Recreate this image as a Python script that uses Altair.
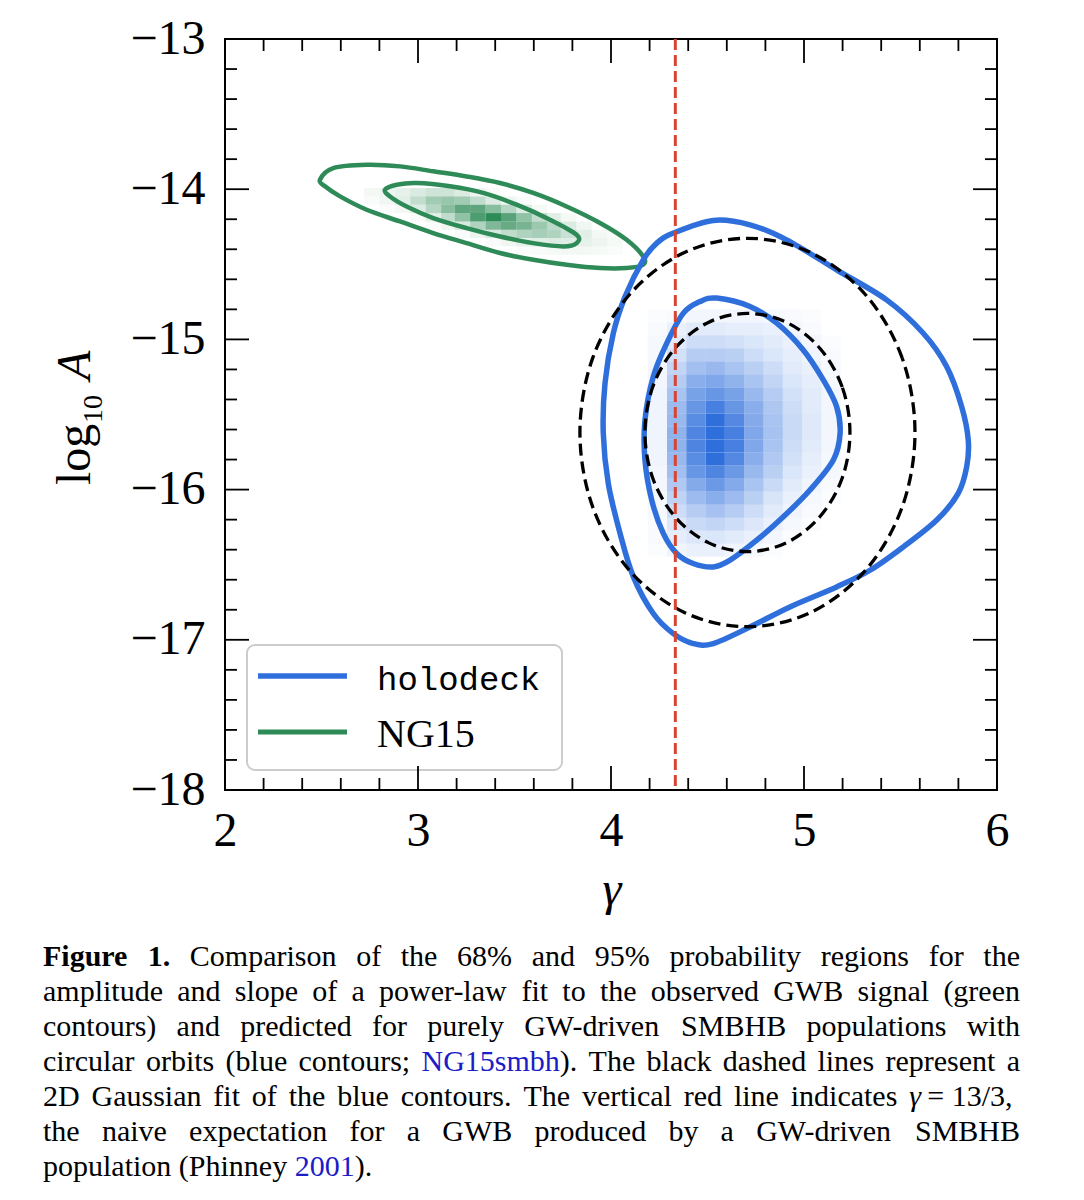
import re
import pandas as pd
import altair as alt

# ------------------------------------------------------------------ data
X_MAJOR = [2, 3, 4, 5, 6]
X_MINOR = [2.2, 2.4, 2.6, 2.8, 3.2, 3.4, 3.6, 3.8, 4.2, 4.4, 4.6, 4.8,
           5.2, 5.4, 5.6, 5.8]
Y_MAJOR = [-13, -14, -15, -16, -17, -18]
Y_MINOR = [-13.2, -13.4, -13.6, -13.8, -14.2, -14.4, -14.6, -14.8,
           -15.2, -15.4, -15.6, -15.8, -16.2, -16.4, -16.6, -16.8,
           -17.2, -17.4, -17.6, -17.8]

GAMMA_NAIVE = [4.3333]  # gamma = 13/3

# holodeck 95% contour
BLUE95_GAMMA = [4.323, 4.530, 4.720, 4.910, 5.169, 5.428, 5.618, 5.739, 5.817,
                5.851, 5.843, 5.799, 5.688, 5.515, 5.342, 5.169, 4.927, 4.720,
                4.530, 4.426, 4.323, 4.219, 4.116, 4.047, 3.986, 3.960, 3.969,
                4.012, 4.073, 4.167, 4.237]
BLUE95_LOGA = [-14.292, -14.208, -14.237, -14.337, -14.537, -14.737, -14.959,
               -15.181, -15.448, -15.670, -15.848, -16.025, -16.203, -16.381,
               -16.537, -16.648, -16.781, -16.915, -17.025, -17.025, -16.959,
               -16.825, -16.581, -16.292, -15.959, -15.625, -15.292, -14.959,
               -14.715, -14.470, -14.359]
# holodeck 68% contour
BLUE68_GAMMA = [4.548, 4.720, 4.859, 4.996, 5.100, 5.169, 5.187, 5.152, 5.031,
                4.893, 4.755, 4.617, 4.530, 4.426, 4.340, 4.271, 4.211, 4.176,
                4.176, 4.219, 4.289, 4.375, 4.461]
BLUE68_LOGA = [-14.725, -14.781, -14.892, -15.070, -15.270, -15.448, -15.625,
               -15.803, -16.003, -16.181, -16.337, -16.470, -16.515, -16.492,
               -16.425, -16.292, -16.070, -15.803, -15.537, -15.248, -15.025,
               -14.825, -14.748]
# NG15 95% contour
GREEN95_GAMMA = [2.492, 2.561, 2.734, 2.907, 3.079, 3.252, 3.425, 3.597, 3.770,
                 3.943, 4.081, 4.167, 4.167, 4.081, 3.943, 3.770, 3.597, 3.425,
                 3.252, 3.079, 2.907, 2.734, 2.596, 2.518]
GREEN95_LOGA = [-13.937, -13.859, -13.837, -13.848, -13.881, -13.915, -13.959,
                -14.025, -14.115, -14.225, -14.337, -14.448, -14.503, -14.525,
                -14.525, -14.503, -14.470, -14.425, -14.359, -14.292, -14.215,
                -14.137, -14.048, -13.981]
# NG15 68% contour
GREEN68_GAMMA = [2.829, 2.890, 2.993, 3.166, 3.338, 3.511, 3.684, 3.822, 3.822,
                 3.753, 3.597, 3.425, 3.252, 3.079, 2.941, 2.855]
GREEN68_LOGA = [-14.003, -13.970, -13.959, -13.981, -14.025, -14.103, -14.203,
                -14.303, -14.359, -14.381, -14.359, -14.315, -14.259, -14.192,
                -14.115, -14.048]

# 2D Gaussian fit (black dashed), outer and inner ellipse points
FIT95_GAMMA = [5.575, 5.509, 5.321, 5.039, 4.707, 4.375, 4.093, 3.905, 3.839,
               3.905, 4.093, 4.375, 4.707, 5.039, 5.321, 5.509]
FIT95_LOGA = [-15.620, -15.125, -14.706, -14.425, -14.327, -14.425, -14.706,
              -15.125, -15.620, -16.115, -16.534, -16.815, -16.913, -16.815,
              -16.534, -16.115]
FIT68_GAMMA = [5.238, 5.198, 5.082, 4.910, 4.707, 4.504, 4.332, 4.216, 4.176,
               4.216, 4.332, 4.504, 4.707, 4.910, 5.082, 5.198]
FIT68_LOGA = [-15.620, -15.317, -15.059, -14.887, -14.827, -14.887, -15.059,
              -15.317, -15.620, -15.923, -16.181, -16.353, -16.413, -16.353,
              -16.181, -15.923]

# holodeck 2D histogram (relative density, rows top -> bottom)
BLUE_HIST_GAMMA_EDGES = [4.19, 4.29, 4.39, 4.49, 4.59, 4.69, 4.79, 4.89, 4.99,
                         5.09, 5.19]
BLUE_HIST_LOGA_EDGES = [-14.800, -14.887, -14.973, -15.060, -15.147, -15.233,
                        -15.320, -15.407, -15.493, -15.580, -15.667, -15.753,
                        -15.840, -15.927, -16.013, -16.100, -16.187, -16.273,
                        -16.360, -16.447]
BLUE_HIST = [
    [0.02, 0.03, 0.05, 0.05, 0.05, 0.05, 0.04, 0.03, 0.02, 0.00],
    [0.03, 0.08, 0.12, 0.12, 0.10, 0.10, 0.08, 0.05, 0.03, 0.00],
    [0.04, 0.12, 0.20, 0.20, 0.18, 0.15, 0.12, 0.08, 0.05, 0.02],
    [0.04, 0.18, 0.30, 0.30, 0.28, 0.20, 0.15, 0.10, 0.06, 0.03],
    [0.05, 0.25, 0.38, 0.42, 0.35, 0.28, 0.20, 0.12, 0.08, 0.04],
    [0.05, 0.30, 0.48, 0.52, 0.45, 0.35, 0.25, 0.15, 0.10, 0.04],
    [0.06, 0.35, 0.55, 0.62, 0.55, 0.42, 0.30, 0.18, 0.12, 0.05],
    [0.06, 0.40, 0.62, 0.75, 0.62, 0.48, 0.33, 0.20, 0.12, 0.05],
    [0.06, 0.42, 0.68, 0.85, 0.70, 0.50, 0.35, 0.22, 0.13, 0.05],
    [0.06, 0.45, 0.72, 0.95, 0.75, 0.52, 0.36, 0.22, 0.13, 0.05],
    [0.06, 0.45, 0.72, 1.00, 0.75, 0.52, 0.35, 0.20, 0.12, 0.05],
    [0.06, 0.42, 0.68, 0.85, 0.70, 0.48, 0.32, 0.18, 0.10, 0.04],
    [0.05, 0.38, 0.62, 0.72, 0.60, 0.42, 0.28, 0.15, 0.08, 0.04],
    [0.05, 0.32, 0.50, 0.60, 0.50, 0.35, 0.22, 0.12, 0.06, 0.03],
    [0.04, 0.26, 0.40, 0.48, 0.40, 0.28, 0.16, 0.08, 0.04, 0.02],
    [0.04, 0.20, 0.30, 0.36, 0.30, 0.20, 0.12, 0.06, 0.03, 0.00],
    [0.03, 0.14, 0.22, 0.25, 0.20, 0.14, 0.08, 0.04, 0.02, 0.00],
    [0.03, 0.10, 0.14, 0.15, 0.12, 0.08, 0.05, 0.02, 0.00, 0.00],
    [0.02, 0.06, 0.08, 0.08, 0.06, 0.04, 0.02, 0.00, 0.00, 0.00],
]

# NG15 2D histogram
GREEN_HIST_GAMMA_EDGES = [2.72, 2.80, 2.88, 2.96, 3.04, 3.12, 3.19, 3.27, 3.35,
                          3.43, 3.51, 3.59, 3.67, 3.74, 3.82, 3.90, 3.98, 4.06]
GREEN_HIST_LOGA_EDGES = [-13.992, -14.048, -14.103, -14.159, -14.215, -14.270,
                         -14.325, -14.381, -14.437]
GREEN_HIST = [
    [0.05, 0.07, 0.10, 0.15, 0.20, 0.20, 0.14, 0.07, 0.03, 0, 0, 0, 0, 0, 0, 0, 0],
    [0.02, 0.06, 0.12, 0.25, 0.38, 0.42, 0.38, 0.26, 0.14, 0.06, 0.02, 0, 0, 0, 0, 0, 0],
    [0, 0.02, 0.05, 0.14, 0.30, 0.48, 0.65, 0.65, 0.48, 0.30, 0.14, 0.04, 0, 0, 0, 0, 0],
    [0, 0, 0, 0.03, 0.12, 0.26, 0.45, 0.72, 0.90, 0.68, 0.45, 0.25, 0.12, 0.04, 0, 0, 0],
    [0, 0, 0, 0, 0.02, 0.06, 0.16, 0.32, 0.52, 0.62, 0.55, 0.40, 0.28, 0.15, 0.06, 0, 0],
    [0, 0, 0, 0, 0, 0, 0.03, 0.08, 0.16, 0.26, 0.32, 0.36, 0.32, 0.22, 0.12, 0.05, 0.02],
    [0, 0, 0, 0, 0, 0, 0, 0, 0.03, 0.06, 0.10, 0.12, 0.14, 0.13, 0.10, 0.07, 0.04],
    [0, 0, 0, 0, 0, 0, 0, 0, 0, 0, 0.02, 0.03, 0.04, 0.05, 0.05, 0.04, 0.02],
]

LEGEND_LABELS = ["holodeck", "NG15"]

CAPTION_LINES = [
    "**Figure** **1.** Comparison of the 68% and 95% probability regions for the",
    "amplitude and slope of a power-law fit to the observed GWB signal (green",
    "contours) and predicted for purely GW-driven SMBHB populations with",
    "circular orbits (blue contours; [NG15smbh]). The black dashed lines represent a",
    "2D Gaussian fit of the blue contours. The vertical red line indicates _\u03b3_\u00a0=\u00a013/3,",
    "the naive expectation for a GWB produced by a GW-driven SMBHB",
    "population (Phinney [2001]).",
]

# ------------------------------------------------------------------ style
W, H = 772, 751
FONT = "Liberation Serif"
BLUE = "#2f6fdc"
GREEN = "#2e8b57"
RED = "#d64532"
LINK = "#1c1cc8"

XS = alt.Scale(domain=[2, 6], nice=False, zero=False)
YS = alt.Scale(domain=[-18, -13], nice=False, zero=False)
XAX = alt.Axis(values=X_MAJOR, ticks=False, tickSize=0, domain=False, grid=False,
               labelFont=FONT, labelFontSize=48, labelPadding=17,
               labelColor="black", labelFlush=False, labelOverlap=False,
               format="d")
YAX = alt.Axis(values=Y_MAJOR, ticks=False, tickSize=0, domain=False, grid=False,
               labelFont=FONT, labelFontSize=48, labelPadding=20,
               labelColor="black", labelFlush=False, labelOverlap=False,
               format="d")


def xe(f):
    return alt.X(f, type="quantitative", scale=XS, axis=XAX, title=None)


def ye(f):
    return alt.Y(f, type="quantitative", scale=YS, axis=YAX, title=None)


OPS = alt.Opacity("v:Q", scale=alt.Scale(domain=[0, 0.85], range=[0, 1],
                                         clamp=True),
                  legend=None)


def hist_df(gedges, aedges, mat):
    rows = []
    for r, row in enumerate(mat):
        for c, v in enumerate(row):
            if v > 0:
                rows.append(dict(g0=gedges[c], g1=gedges[c + 1],
                                 a0=aedges[r], a1=aedges[r + 1], v=v))
    return pd.DataFrame(rows)


def contour_df(pairs):
    rows = []
    for name, gs, as_ in pairs:
        for i, (g, a) in enumerate(zip(gs, as_)):
            rows.append(dict(c=name, i=i, g=g, a=a))
    return pd.DataFrame(rows)


blue_hist = alt.Chart(hist_df(BLUE_HIST_GAMMA_EDGES, BLUE_HIST_LOGA_EDGES, BLUE_HIST)).mark_rect(
    fill=BLUE, strokeWidth=0).encode(x=xe("g0"), x2="g1", y=ye("a0"), y2="a1", opacity=OPS)
green_hist = alt.Chart(hist_df(GREEN_HIST_GAMMA_EDGES, GREEN_HIST_LOGA_EDGES, GREEN_HIST)).mark_rect(
    fill=GREEN, strokeWidth=0).encode(x=xe("g0"), x2="g1", y=ye("a0"), y2="a1", opacity=OPS)

green_lines = alt.Chart(contour_df([("g95", GREEN95_GAMMA, GREEN95_LOGA),
                                    ("g68", GREEN68_GAMMA, GREEN68_LOGA)])).mark_line(
    interpolate="cardinal-closed", color=GREEN, strokeWidth=4.5).encode(
    x=xe("g"), y=ye("a"), detail="c:N", order="i:Q")
blue_lines = alt.Chart(contour_df([("b95", BLUE95_GAMMA, BLUE95_LOGA),
                                   ("b68", BLUE68_GAMMA, BLUE68_LOGA)])).mark_line(
    interpolate="cardinal-closed", color=BLUE, strokeWidth=5.5).encode(
    x=xe("g"), y=ye("a"), detail="c:N", order="i:Q")
fit_lines = alt.Chart(contour_df([("f95", FIT95_GAMMA, FIT95_LOGA),
                                  ("f68", FIT68_GAMMA, FIT68_LOGA)])).mark_line(
    interpolate="cardinal-closed", color="black", strokeWidth=3.3,
    strokeDash=[12, 6]).encode(x=xe("g"), y=ye("a"), detail="c:N", order="i:Q")

red_line = alt.Chart(pd.DataFrame({"g": GAMMA_NAIVE})).mark_rule(
    color=RED, strokeWidth=3, strokeDash=[11, 5]).encode(x=xe("g"))

# legend
one = pd.DataFrame({"k": [0]})
leg_box = alt.Chart(one).mark_rect(fill="white", fillOpacity=0.85, stroke="#cccccc",
                                   strokeWidth=2, cornerRadius=8).encode(
    x=alt.value(22), x2=alt.value(337), y=alt.value(606), y2=alt.value(731))
leg_blue = alt.Chart(one).mark_rule(color=BLUE, strokeWidth=5.5).encode(
    x=alt.value(33), x2=alt.value(122), y=alt.value(637))
leg_green = alt.Chart(one).mark_rule(color=GREEN, strokeWidth=5).encode(
    x=alt.value(33), x2=alt.value(122), y=alt.value(693))
leg_t1 = alt.Chart(one).mark_text(font="Liberation Mono", fontSize=34, align="left",
                                  baseline="alphabetic", color="black",
                                  text=LEGEND_LABELS[0]).encode(
    x=alt.value(152), y=alt.value(651))
leg_t2 = alt.Chart(one).mark_text(font=FONT, fontSize=40, align="left",
                                  baseline="alphabetic", color="black",
                                  text=LEGEND_LABELS[1]).encode(
    x=alt.value(152), y=alt.value(708))

# ticks (inward, all four sides)
def tick_layers():
    out = []
    for vals, ln in ((X_MAJOR, 24), (X_MINOR, 12)):
        d = pd.DataFrame({"g": vals})
        out.append(alt.Chart(d).mark_rule(color="black", strokeWidth=1.8).encode(
            x=xe("g"), y=alt.value(H), y2=alt.value(H - ln)))
        out.append(alt.Chart(d).mark_rule(color="black", strokeWidth=1.8).encode(
            x=xe("g"), y=alt.value(0), y2=alt.value(ln)))
    for vals, ln in ((Y_MAJOR, 24), (Y_MINOR, 12)):
        d = pd.DataFrame({"a": vals})
        out.append(alt.Chart(d).mark_rule(color="black", strokeWidth=1.8).encode(
            y=ye("a"), x=alt.value(0), x2=alt.value(ln)))
        out.append(alt.Chart(d).mark_rule(color="black", strokeWidth=1.8).encode(
            y=ye("a"), x=alt.value(W), x2=alt.value(W - ln)))
    return out

# axis titles
x_title = alt.Chart(one).mark_text(font=FONT, fontSize=48, fontStyle="italic",
                                   align="center", baseline="alphabetic",
                                   color="black", text="\u03b3").encode(
    x=alt.value(387), y=alt.value(866))
y_log = alt.Chart(one).mark_text(font=FONT, fontSize=48, angle=270, align="left",
                                 baseline="alphabetic", color="black",
                                 text="log").encode(x=alt.value(-135), y=alt.value(446))
y_sub = alt.Chart(one).mark_text(font=FONT, fontSize=28, angle=270, align="left",
                                 baseline="alphabetic", color="black",
                                 text="10").encode(x=alt.value(-123), y=alt.value(384))
y_A = alt.Chart(one).mark_text(font=FONT, fontSize=48, angle=270, align="left",
                               baseline="alphabetic", fontStyle="italic",
                               color="black", text="A").encode(
    x=alt.value(-135), y=alt.value(341))

# caption (justified, Times metrics)
TIMES_W = {' ': 250, '\u00a0': 250, '!': 333, '%': 833, '(': 333, ')': 333,
           ',': 250, '-': 333, '.': 250, '/': 278, ':': 278, ';': 278, '=': 564,
           '\u03b3': 600}
for ch in "0123456789":
    TIMES_W[ch] = 500
TIMES_W.update(dict(zip("ABCDEFGHIJKLMNOPQRSTUVWXYZ",
                        [722, 667, 667, 722, 611, 556, 722, 722, 333, 389, 722, 611,
                         889, 722, 722, 556, 722, 667, 556, 611, 722, 722, 944, 722,
                         722, 611])))
TIMES_W.update(dict(zip("abcdefghijklmnopqrstuvwxyz",
                        [444, 500, 444, 500, 444, 333, 500, 500, 278, 278, 500, 278,
                         778, 500, 500, 500, 500, 333, 389, 278, 500, 500, 722, 500,
                         500, 444])))
BOLD_W = dict(TIMES_W)
BOLD_W.update({'F': 611, 'u': 556, 'r': 444, 'g': 500, 'i': 278, 'e': 444})

CAP_FS = 30
CAP_LEFT, CAP_RIGHT = -182, 795
CAP_TOP, CAP_LH = 927, 35


def seg_w(s, st):
    tab = BOLD_W if st == "b" else TIMES_W
    return sum(tab.get(ch, 500) for ch in s) * CAP_FS / 1000.0


def parse(tok):
    segs = []
    for p in re.split(r'(\*\*.+?\*\*|\[.+?\]|_.+?_)', tok):
        if not p:
            continue
        if p.startswith("**"):
            segs.append(("b", p[2:-2]))
        elif p.startswith("["):
            segs.append(("link", p[1:-1]))
        elif p.startswith("_") and len(p) > 2:
            segs.append(("i", p[1:-1]))
        else:
            segs.append(("n", p))
    return segs


cap_rows = []
for li, line in enumerate(CAPTION_LINES):
    toks = [parse(t) for t in line.split(" ")]
    widths = [sum(seg_w(s, st) for st, s in segs) for segs in toks]
    if li < len(CAPTION_LINES) - 1 and len(toks) > 1:
        gap = (CAP_RIGHT - CAP_LEFT - sum(widths)) / (len(toks) - 1)
    else:
        gap = 250 * CAP_FS / 1000.0
    x = CAP_LEFT
    for segs, w in zip(toks, widths):
        xx = x
        for st, s in segs:
            cap_rows.append(dict(px=xx, py=CAP_TOP + li * CAP_LH, text=s, st=st))
            xx += seg_w(s, st)
        x += w + gap
cap_df = pd.DataFrame(cap_rows)


def cap_layer(st, **kw):
    d = cap_df[cap_df.st == st]
    return alt.Chart(d).mark_text(font=FONT, fontSize=CAP_FS, align="left",
                                  baseline="alphabetic", **kw).encode(
        x=alt.X("px:Q", scale=None, axis=None),
        y=alt.Y("py:Q", scale=None, axis=None),
        text="text:N")


captions = [cap_layer("n", color="black"),
            cap_layer("b", color="black", fontWeight="bold"),
            cap_layer("i", color="black", fontStyle="italic"),
            cap_layer("link", color=LINK)]

chart = alt.layer(
    blue_hist, green_hist, green_lines, blue_lines, fit_lines, red_line,
    leg_box, leg_blue, leg_green, leg_t1, leg_t2,
    *tick_layers(), x_title, y_log, y_sub, y_A, *captions,
).properties(
    width=W, height=H,
    autosize=alt.AutoSizeParams(type="none"),
    padding={"left": 225, "top": 39, "right": 87, "bottom": 410},
    background="white",
).configure_view(stroke="black", strokeWidth=2)

chart.save("out.html", embed_options={"renderer": "svg", "actions": False})
